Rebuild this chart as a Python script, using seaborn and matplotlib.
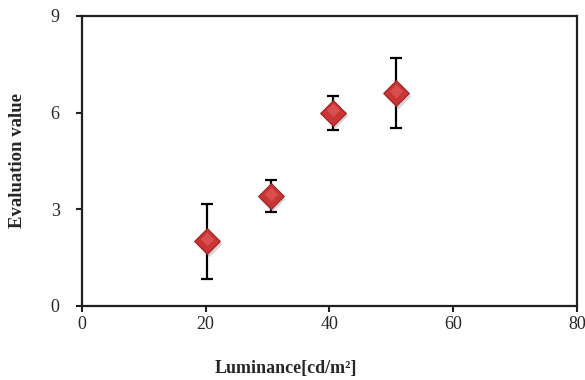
import numpy as np
import pandas as pd
import matplotlib
matplotlib.use("Agg")
import matplotlib.pyplot as plt
import seaborn as sns

# data
luminance = [20.3, 30.5, 40.6, 50.8]
evaluation = [2.0, 3.4, 6.0, 6.6]
err = [1.15, 0.5, 0.53, 1.08]
x_ticks = [0, 20, 40, 60, 80]
y_ticks = [0, 3, 6, 9]

sns.set_style("ticks")
plt.rcParams['font.family'] = ['Liberation Serif', 'DejaVu Serif']

df = pd.DataFrame({"Luminance": luminance, "Evaluation": evaluation, "err": err})

fig = plt.figure(figsize=(5.85, 3.8), dpi=100)
ax = fig.add_axes([0.140, 0.195, 0.846, 0.763])

ax.errorbar(df["Luminance"], df["Evaluation"], yerr=df["err"], fmt="none",
            ecolor="black", elinewidth=1.6, capsize=4, capthick=1.6, zorder=2)

# soft shadow under the markers
ax.scatter(df["Luminance"] + 0.3, df["Evaluation"] - 0.08, marker="D", s=170,
           color="#888888", alpha=0.35, linewidths=0, zorder=3)
sns.scatterplot(data=df, x="Luminance", y="Evaluation", marker="D", s=170,
                color="#c93535", edgecolor="#9e2222", linewidth=0.8, ax=ax, zorder=4)
# lighter upper half highlight
ax.scatter(df["Luminance"], df["Evaluation"] + 0.08, marker="D", s=45,
           color="#e46262", alpha=0.6, linewidths=0, zorder=5)

ax.set_xlim(0, 80)
ax.set_ylim(0, 9)
ax.set_xticks(x_ticks)
ax.set_yticks(y_ticks)
ax.tick_params(axis="both", labelsize=13, length=4, width=1.5, color="#231f20",
               direction="out")
ax.tick_params(axis="x", pad=3)
ax.tick_params(axis="y", pad=12)

for s in ax.spines.values():
    s.set_color("#231f20")
    s.set_linewidth(1.6)

ax.set_xlabel("Luminance[cd/m²]", fontsize=13, fontweight="bold")
ax.set_ylabel("Evaluation value", fontsize=13.5, fontweight="bold")
ax.xaxis.set_label_coords(0.412, -0.185)
ax.yaxis.set_label_coords(-0.112, 0.5)

fig.savefig("out.png", dpi=100)
